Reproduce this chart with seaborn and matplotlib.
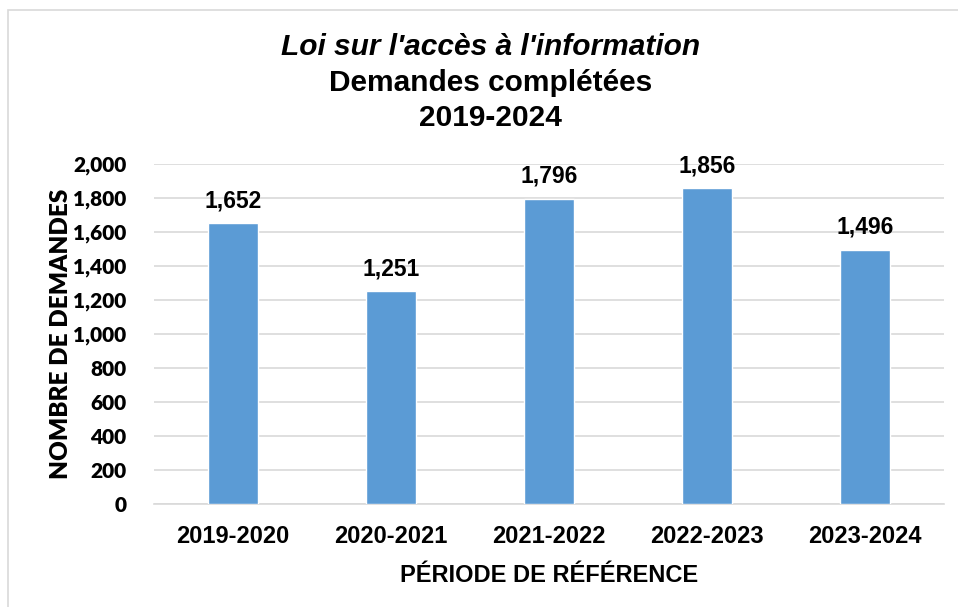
import matplotlib
matplotlib.use("Agg")
import matplotlib.pyplot as plt
import seaborn as sns
import pandas as pd
from matplotlib.patches import Rectangle

periods = ["2019-2020", "2020-2021", "2021-2022", "2022-2023", "2023-2024"]
values = [1652, 1251, 1796, 1856, 1496]
yticks = [0, 200, 400, 600, 800, 1000, 1200, 1400, 1600, 1800, 2000]

sns.set_theme(style="white")
plt.rcParams['font.family'] = ['Liberation Sans', 'DejaVu Sans']
plt.rcParams['text.color'] = 'black'
plt.rcParams['axes.labelcolor'] = 'black'
plt.rcParams['xtick.color'] = 'black'
plt.rcParams['ytick.color'] = 'black'

df = pd.DataFrame({"periode": periods, "n": values})

fig = plt.figure(figsize=(9.58, 6.07), dpi=100)
fig.patch.set_facecolor("white")
fig.add_artist(Rectangle((8/958, -0.1), 1.2, (607-10)/607 + 0.1, transform=fig.transFigure,
                         fill=False, edgecolor="#D9D9D9", linewidth=1.2))

ax = fig.add_axes([154/958, 103/607, 790/958, 340/607])
sns.barplot(data=df, x="periode", y="n", color="#5B9BD5", width=0.32,
            saturation=1, ax=ax, zorder=3)
ax.set_xlim(-0.5, 4.5)
ax.set_ylim(0, 2000)
ax.set_yticks(yticks)
ax.set_yticklabels([f"{v:,}" for v in yticks], fontfamily="Lato", fontweight="heavy", fontsize=15)
ax.yaxis.grid(True, color="#D9D9D9", linewidth=1.2, zorder=0)
ax.xaxis.grid(False)
for s in ["top", "right", "left"]:
    ax.spines[s].set_visible(False)
ax.spines["bottom"].set_color("#D9D9D9")
ax.spines["bottom"].set_linewidth(1.2)
ax.tick_params(axis="y", length=0, pad=20)
ax.tick_params(axis="x", length=0, pad=15)
for lbl in ax.get_xticklabels():
    lbl.set_fontweight("bold")
    lbl.set_fontsize(17)

for c in ax.containers:
    ax.bar_label(c, labels=[f"{v:,}" for v in values], padding=8,
                 fontsize=16.5, fontweight="bold")

ax.set_xlabel("PÉRIODE DE RÉFÉRENCE", fontsize=17, fontweight="bold", labelpad=12)
ax.set_ylabel("NOMBRE DE DEMANDES", fontfamily="Lato", fontsize=17.5, fontweight="heavy", labelpad=1)

fig.text(0.512, 1 - 47/607, "Loi sur l'accès à l'information", ha="center", va="center",
         fontsize=21.5, fontweight="bold", fontstyle="italic")
fig.text(0.512, 1 - 83/607, "Demandes complétées", ha="center", va="center",
         fontsize=21.5, fontweight="bold")
fig.text(0.512, 1 - 118/607, "2019-2024", ha="center", va="center",
         fontsize=21.5, fontweight="bold")

fig.savefig("out.png", dpi=100, facecolor="white")
